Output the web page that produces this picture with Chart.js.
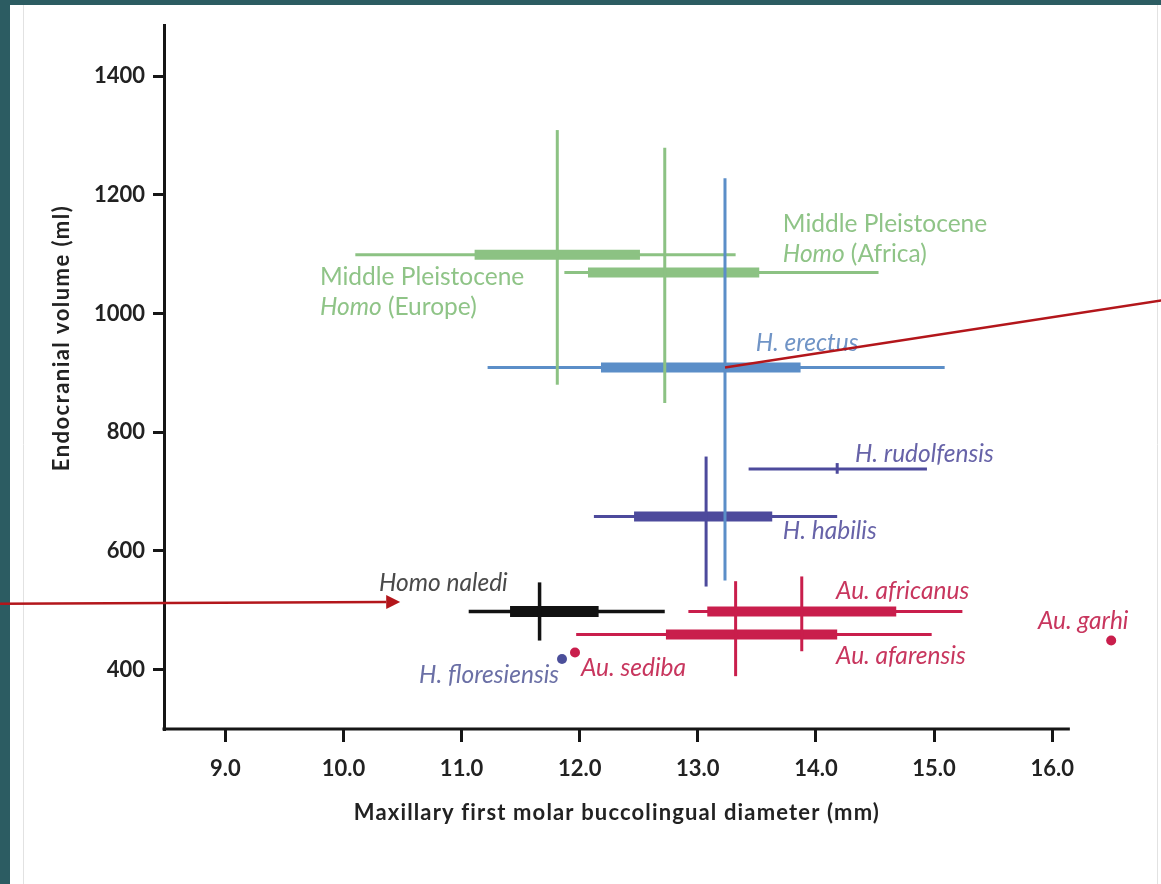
<!DOCTYPE html>
<html>
<head>
<meta charset="utf-8">
<script src="https://cdn.jsdelivr.net/npm/chart.js@4.4.1/dist/chart.umd.min.js"></script>
<style>
  html, body { margin: 0; padding: 0; background: #2c5c62; overflow: hidden; }
  #wrap { position: absolute; left: 0; top: 0; width: 1161px; height: 884px; }
</style>
</head>
<body>
<div id="wrap"><canvas id="chart"></canvas></div>
<script>
// species with range bars
const species = ["MP Homo (Europe)", "MP Homo (Africa)", "H. erectus", "H. rudolfensis",
                 "H. habilis", "Homo naledi", "Au. africanus", "Au. afarensis"];
const meanMolar = [11.81, 12.72, 13.23, 14.18, 13.07, 11.66, 13.88, 13.32];
const meanVolume = [1099, 1069, 909, 738, 658, 498, 498, 459];
const molarRangeMin = [10.10, 11.87, 11.22, 13.43, 12.12, 11.06, 12.92, 11.97];
const molarRangeMax = [13.32, 14.53, 15.09, 14.94, 14.18, 12.72, 15.24, 14.98];
const molarSdMin = [11.11, 12.07, 12.18, null, 12.46, 11.41, 13.08, 12.73];
const molarSdMax = [12.51, 13.52, 13.87, null, 13.63, 12.16, 14.68, 14.18];
const volumeRangeMin = [880, 849, 550, 730, 540, 449, 431, 389];
const volumeRangeMax = [1309, 1279, 1228, 748, 759, 547, 557, 549];
const speciesColor = ["#8cc283", "#8cc283", "#5b8ec8", "#4d4a9c", "#4d4a9c", "#121212", "#c91e4c", "#c91e4c"];

// single specimens
const singleNames = ["H. floresiensis", "Au. sediba", "Au. garhi"];
const singleMolar = [11.85, 11.96, 16.50];
const singleVolume = [418, 429, 449];
const singleColor = ["#4b4f9a", "#c91e4c", "#c91e4c"];

// axes
const xTicks = [9, 10, 11, 12, 13, 14, 15, 16];
const yTicks = [400, 600, 800, 1000, 1200, 1400];
const xAxisEnd = 16.15;

// labels: lines of [text, italic] segments, anchored at left/middle in data units
const labelLines = [
  [[["Middle Pleistocene", false]], [["Homo", true], [" (Africa)", false]]],
  [[["Middle Pleistocene", false]], [["Homo", true], [" (Europe)", false]]],
  [[["H. erectus", true]]],
  [[["H. rudolfensis", true]]],
  [[["H. habilis", true]]],
  [[["Homo naledi", true]]],
  [[["Au. africanus", true]]],
  [[["Au. afarensis", true]]],
  [[["Au. garhi", true]]],
  [[["H. floresiensis", true]]],
  [[["Au. sediba", true]]]
];
const labelX = [13.72, 9.80, 13.49, 14.33, 13.72, 10.30, 14.17, 14.17, 15.88, 10.64, 12.01];
const labelY = [1151, 1062, 950, 763, 634, 545, 533, 422, 482, 390, 403];
const labelColor = ["#8fc487", "#8fc487", "#7094c6", "#6763a8", "#6763a8", "#4a4a4a",
                    "#c8365e", "#c8365e", "#c8365e", "#6b70a6", "#c8365e"];

// overlay arrows (data units), head at the "to" end when flagged
const arrowFromX = [16.93, 7.09];
const arrowFromY = [1022, 511];
const arrowToX = [13.23, 10.48];
const arrowToY = [909, 514];
const arrowHead = [false, true];

const datasets = [];
let paint = 0;
function seg(x1, y1, x2, y2, color, width) {
  datasets.push({
    data: [{ x: x1, y: y1 }, { x: x2, y: y2 }],
    showLine: true,
    borderColor: color,
    borderWidth: width,
    borderCapStyle: "butt",
    pointRadius: 0,
    fill: false,
    order: -(paint++)
  });
}

// horizontals first, then the vertical spans on top
species.forEach((s, i) => {
  const naledi = s === "Homo naledi";
  seg(molarRangeMin[i], meanVolume[i], molarRangeMax[i], meanVolume[i], speciesColor[i], naledi ? 3.5 : 3);
  if (molarSdMin[i] !== null) {
    seg(molarSdMin[i], meanVolume[i], molarSdMax[i], meanVolume[i], speciesColor[i], naledi ? 11 : 10);
  }
});
species.forEach((s, i) => {
  seg(meanMolar[i], volumeRangeMin[i], meanMolar[i], volumeRangeMax[i], speciesColor[i], s === "Homo naledi" ? 3.5 : 3);
});
singleNames.forEach((s, i) => {
  datasets.push({
    data: [{ x: singleMolar[i], y: singleVolume[i] }],
    showLine: false,
    pointRadius: 5,
    pointBorderWidth: 0,
    pointBackgroundColor: singleColor[i],
    order: -(paint++)
  });
});

const FONT = "Lato, 'Noto Sans', sans-serif";
const AXIS = "#161616";

const backdrop = {
  id: "backdrop",
  beforeDraw(chart) {
    const { ctx, width, height } = chart;
    ctx.save();
    ctx.fillStyle = "#2c5c62";
    ctx.fillRect(0, 0, width, height);
    ctx.fillStyle = "#ffffff";
    ctx.fillRect(10, 5, width - 10, height - 5);
    ctx.strokeStyle = "#e2e2e2";
    ctx.lineWidth = 1;
    ctx.beginPath();
    ctx.moveTo(23.5, 5); ctx.lineTo(23.5, height);
    ctx.moveTo(1157.5, 5); ctx.lineTo(1157.5, height);
    ctx.stroke();
    ctx.restore();
  }
};

const annotations = {
  id: "annotations",
  afterDatasetsDraw(chart) {
    const { ctx } = chart;
    const xs = chart.scales.x, ys = chart.scales.y;
    const area = chart.chartArea;
    ctx.save();

    // x axis line, stops short of the plotted area's right edge
    ctx.strokeStyle = AXIS;
    ctx.lineWidth = 3;
    ctx.beginPath();
    ctx.moveTo(area.left - 1.5, area.bottom);
    ctx.lineTo(xs.getPixelForValue(xAxisEnd), area.bottom);
    ctx.stroke();

    // species labels
    ctx.textBaseline = "middle";
    ctx.textAlign = "left";
    labelLines.forEach((lines, i) => {
      const x0 = xs.getPixelForValue(labelX[i]);
      const y0 = ys.getPixelForValue(labelY[i]);
      ctx.fillStyle = labelColor[i];
      lines.forEach((line, j) => {
        let x = x0;
        line.forEach(([t, it]) => {
          ctx.font = (it ? "italic " : "") + "24.5px " + FONT;
          ctx.fillText(t, x, y0 + j * 30.5);
          x += ctx.measureText(t).width;
        });
      });
    });

    // axis titles
    ctx.fillStyle = "#222222";
    ctx.font = "bold 22px " + FONT;
    ctx.textAlign = "center";
    ctx.letterSpacing = "1.15px";
    ctx.fillText("Maxillary first molar buccolingual diameter (mm)", (area.left + xs.getPixelForValue(xAxisEnd)) / 2, 813);
    ctx.letterSpacing = "1.45px";
    ctx.translate(62, 338);
    ctx.rotate(-Math.PI / 2);
    ctx.fillText("Endocranial volume (ml)", 0, 0);
    ctx.setTransform(1, 0, 0, 1, 0, 0);
    ctx.letterSpacing = "0px";

    // red overlay arrows
    ctx.strokeStyle = "#b3161b";
    ctx.fillStyle = "#b3161b";
    ctx.lineWidth = 2.5;
    arrowFromX.forEach((fx, i) => {
      const x1 = xs.getPixelForValue(fx), y1 = ys.getPixelForValue(arrowFromY[i]);
      const x2 = xs.getPixelForValue(arrowToX[i]), y2 = ys.getPixelForValue(arrowToY[i]);
      const a = Math.atan2(y2 - y1, x2 - x1);
      const head = arrowHead[i] ? 14 : 0;
      ctx.beginPath();
      ctx.moveTo(x1, y1);
      ctx.lineTo(x2 - head * Math.cos(a), y2 - head * Math.sin(a));
      ctx.stroke();
      if (head) {
        ctx.beginPath();
        ctx.moveTo(x2, y2);
        ctx.lineTo(x2 - head * Math.cos(a) + 7 * Math.sin(a), y2 - head * Math.sin(a) - 7 * Math.cos(a));
        ctx.lineTo(x2 - head * Math.cos(a) - 7 * Math.sin(a), y2 - head * Math.sin(a) + 7 * Math.cos(a));
        ctx.closePath();
        ctx.fill();
      }
    });
    ctx.restore();
  }
};

new Chart(document.getElementById("chart"), {
  type: "scatter",
  data: { datasets },
  options: {
    responsive: true,
    maintainAspectRatio: false,
    animation: false,
    events: [],
    layout: { padding: { left: 0, top: 25, right: 38, bottom: 0 } },
    plugins: { legend: { display: false }, tooltip: { enabled: false } },
    scales: {
      x: {
        type: "linear",
        min: 8.48,
        max: 16.6,
        afterBuildTicks: s => { s.ticks = xTicks.map(v => ({ value: v })); },
        afterFit: s => { s.height = 155; },
        border: { display: false },
        grid: { display: true, drawOnChartArea: false, drawTicks: true, tickLength: 13, color: AXIS, lineWidth: 3 },
        ticks: {
          padding: 14,
          color: "#222222",
          font: { family: FONT, size: 22, weight: "bold" },
          callback: v => v.toFixed(1),
          maxRotation: 0
        }
      },
      y: {
        type: "linear",
        min: 300,
        max: 1486,
        afterBuildTicks: s => { s.ticks = yTicks.map(v => ({ value: v })); },
        afterFit: s => { s.width = 164; },
        border: { display: true, color: AXIS, width: 3 },
        grid: { display: true, drawOnChartArea: false, drawTicks: true, tickLength: 11, color: AXIS, lineWidth: 3 },
        ticks: {
          padding: 8,
          color: "#222222",
          font: { family: FONT, size: 22, weight: "bold" },
          callback: v => String(v)
        }
      }
    }
  },
  plugins: [backdrop, annotations]
});
</script>
</body>
</html>
